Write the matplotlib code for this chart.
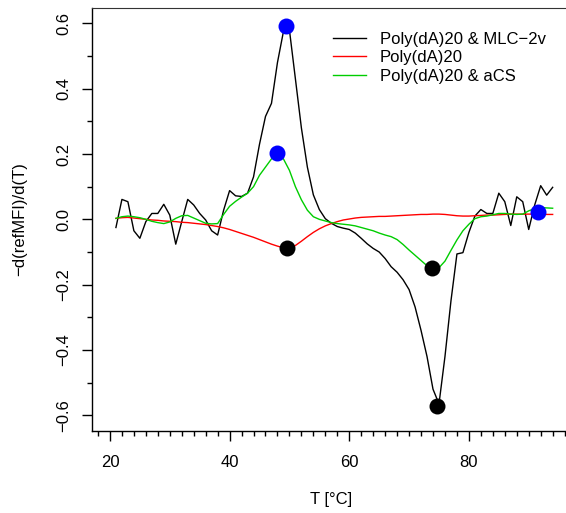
#!/usr/bin/env python
# -*- coding: utf-8 -*-
"""
melting curve derivatives with peak markers
"""

import matplotlib
matplotlib.use("Agg")
import matplotlib.pyplot as plt
from matplotlib.ticker import MultipleLocator
import numpy as np

plt.rcParams['font.family'] = ['Liberation Sans', 'DejaVu Sans']

# temperature grid (°C)
temp = np.arange(21, 95)

mlc2v = [-0.025, 0.061, 0.054, -0.035, -0.058, -0.007, 0.018, 0.018, 0.046, 0.013,
         -0.076, -0.007, 0.061, 0.044, 0.018, -0.002, -0.035, -0.048, 0.028, 0.088,
         0.072, 0.070, 0.080, 0.130, 0.230, 0.315, 0.355, 0.480, 0.575, 0.580,
         0.430, 0.280, 0.160, 0.075, 0.030, 0.002, -0.012, -0.022, -0.027, -0.031,
         -0.042, -0.058, -0.075, -0.089, -0.100, -0.120, -0.145, -0.162, -0.185, -0.215,
         -0.268, -0.340, -0.420, -0.520, -0.565, -0.420, -0.250, -0.106, -0.102, -0.040,
         0.010, 0.030, 0.018, 0.018, 0.080, 0.054, -0.019, 0.069, 0.054, -0.031,
         0.044, 0.103, 0.074, 0.098]

polyda = [0.003, 0.005, 0.006, 0.004, 0.002, 0.000, -0.002, -0.003, -0.005, -0.006,
          -0.007, -0.009, -0.010, -0.012, -0.014, -0.016, -0.019, -0.022, -0.026, -0.031,
          -0.037, -0.043, -0.049, -0.055, -0.062, -0.069, -0.076, -0.082, -0.087, -0.088,
          -0.080, -0.067, -0.053, -0.040, -0.029, -0.020, -0.013, -0.007, -0.002, 0.001,
          0.004, 0.006, 0.007, 0.008, 0.009, 0.009, 0.010, 0.011, 0.012, 0.013,
          0.014, 0.015, 0.015, 0.016, 0.016, 0.015, 0.013, 0.011, 0.010, 0.010,
          0.011, 0.012, 0.013, 0.013, 0.014, 0.015, 0.016, 0.016, 0.016, 0.016,
          0.016, 0.015, 0.015, 0.015]

acs = [0.003, 0.008, 0.010, 0.008, 0.005, 0.000, -0.006, -0.010, -0.013, -0.008,
       0.003, 0.011, 0.012, 0.004, -0.004, -0.012, -0.014, -0.013, 0.015, 0.040,
       0.055, 0.068, 0.080, 0.100, 0.135, 0.160, 0.185, 0.202, 0.185, 0.150,
       0.100, 0.060, 0.028, 0.008, 0.000, -0.005, -0.010, -0.013, -0.015, -0.017,
       -0.020, -0.025, -0.030, -0.035, -0.042, -0.048, -0.053, -0.062, -0.077, -0.094,
       -0.110, -0.126, -0.142, -0.150, -0.148, -0.128, -0.095, -0.063, -0.035, -0.015,
       0.002, 0.008, 0.010, 0.014, 0.018, 0.018, 0.016, 0.015, 0.016, 0.026,
       0.033, 0.036, 0.035, 0.034]

# detected maxima / minima
max_t = [49.5, 47.9, 91.6]
max_v = [0.592, 0.202, 0.021]
min_t = [49.6, 74.7, 73.9]
min_v = [-0.088, -0.570, -0.150]

labels = ["Poly(dA)20 & MLC\u22122v", "Poly(dA)20", "Poly(dA)20 & aCS"]

fig = plt.figure(figsize=(5.66, 5.13), dpi=100)
ax = fig.add_axes([92 / 566, 82 / 513, 478 / 566, 423 / 513])

ax.plot(temp, mlc2v, color="black", lw=1.0, label=labels[0])
ax.plot(temp, polyda, color="#ff0000", lw=1.0, label=labels[1])
ax.plot(temp, acs, color="#00cd00", lw=1.0, label=labels[2])
ax.plot(max_t, max_v, "o", color="#0000ff", ms=11.5, mec="none")
ax.plot(min_t, min_v, "o", color="black", ms=11.5, mec="none")

ax.set_xlim(17, 96.9)
ax.set_ylim(-0.648, 0.647)

ax.xaxis.set_major_locator(MultipleLocator(20))
ax.xaxis.set_minor_locator(MultipleLocator(2))
ax.yaxis.set_major_locator(MultipleLocator(0.2))
ax.yaxis.set_minor_locator(MultipleLocator(0.1))
ax.tick_params(which="major", length=7, width=1, labelsize=12, direction="out")
ax.tick_params(which="minor", length=3.5, width=1)
ax.tick_params(axis="x", which="major", pad=10)
ax.tick_params(axis="y", which="major", pad=8)
for lab in ax.get_yticklabels():
    lab.set_rotation(90)
    lab.set_va("center")
for sp in ax.spines.values():
    sp.set_linewidth(1)
ax.spines["top"].set_color("#333333")
ax.spines["top"].set_linewidth(0.8)

ax.set_xlabel("T [°C]", fontsize=12, labelpad=16)
ax.set_ylabel("\u2212d(refMFI)/d(T)", fontsize=12, labelpad=21)

ax.legend(loc="upper left", bbox_to_anchor=(333 / 566, 1 - 32 / 513),
          bbox_transform=fig.transFigure, frameon=False, fontsize=12,
          handlelength=1.95, handletextpad=0.85, labelspacing=0.2,
          borderpad=0, borderaxespad=0)

fig.savefig("out.png", dpi=100)
